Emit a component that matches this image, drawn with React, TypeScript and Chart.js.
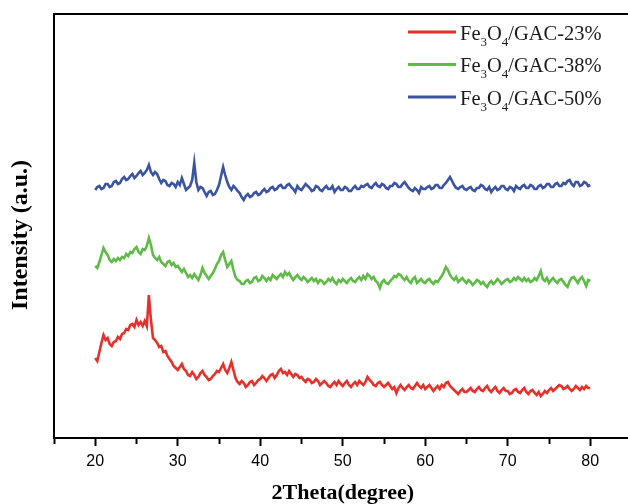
import React, { useEffect, useRef } from 'react';
import { Chart, registerables } from 'chart.js';

Chart.register(...registerables);

// 2θ (degree) sampling positions
const twoTheta = [
  20, 20.25, 20.5, 20.75, 21, 21.25, 21.5, 21.75, 22, 22.25, 22.5, 22.75, 23, 23.25, 23.5, 23.75, 24, 24.25, 24.5, 24.75,
  25, 25.25, 25.5, 25.75, 26, 26.25, 26.5, 26.75, 27, 27.25, 27.5, 27.75, 28, 28.25, 28.5, 28.75, 29, 29.25, 29.5, 29.75,
  30, 30.25, 30.5, 30.75, 31, 31.25, 31.5, 31.75, 32, 32.25, 32.5, 32.75, 33, 33.25, 33.5, 33.75, 34, 34.25, 34.5, 34.75,
  35, 35.25, 35.5, 35.75, 36, 36.25, 36.5, 36.75, 37, 37.25, 37.5, 37.75, 38, 38.25, 38.5, 38.75, 39, 39.25, 39.5, 39.75,
  40, 40.25, 40.5, 40.75, 41, 41.25, 41.5, 41.75, 42, 42.25, 42.5, 42.75, 43, 43.25, 43.5, 43.75, 44, 44.25, 44.5, 44.75,
  45, 45.25, 45.5, 45.75, 46, 46.25, 46.5, 46.75, 47, 47.25, 47.5, 47.75, 48, 48.25, 48.5, 48.75, 49, 49.25, 49.5, 49.75,
  50, 50.25, 50.5, 50.75, 51, 51.25, 51.5, 51.75, 52, 52.25, 52.5, 52.75, 53, 53.25, 53.5, 53.75, 54, 54.25, 54.5, 54.75,
  55, 55.25, 55.5, 55.75, 56, 56.25, 56.5, 56.75, 57, 57.25, 57.5, 57.75, 58, 58.25, 58.5, 58.75, 59, 59.25, 59.5, 59.75,
  60, 60.25, 60.5, 60.75, 61, 61.25, 61.5, 61.75, 62, 62.25, 62.5, 62.75, 63, 63.25, 63.5, 63.75, 64, 64.25, 64.5, 64.75,
  65, 65.25, 65.5, 65.75, 66, 66.25, 66.5, 66.75, 67, 67.25, 67.5, 67.75, 68, 68.25, 68.5, 68.75, 69, 69.25, 69.5, 69.75,
  70, 70.25, 70.5, 70.75, 71, 71.25, 71.5, 71.75, 72, 72.25, 72.5, 72.75, 73, 73.25, 73.5, 73.75, 74, 74.25, 74.5, 74.75,
  75, 75.25, 75.5, 75.75, 76, 76.25, 76.5, 76.75, 77, 77.25, 77.5, 77.75, 78, 78.25, 78.5, 78.75, 79, 79.25, 79.5, 79.75,
  80,
];

// Intensity (a.u., traces offset as plotted)
const gac23 = [
  80, 77, 86, 95, 103, 98, 100, 94, 92, 96, 97, 101, 99, 104, 105, 109, 108, 113, 114, 111,
  118, 113, 116, 112, 117, 112, 143, 118, 100, 98, 95, 91, 92, 86, 87, 82, 79, 76, 72, 70,
  68, 71, 74, 69, 67, 63, 62, 66, 63, 59, 61, 65, 67, 63, 61, 58, 59, 62, 64, 67,
  66, 70, 74, 68, 65, 70, 76, 68, 60, 56, 54, 57, 55, 51, 53, 56, 57, 53, 55, 58,
  59, 62, 60, 57, 60, 63, 64, 60, 63, 67, 69, 65, 66, 63, 67, 64, 61, 64, 63, 60,
  61, 58, 56, 59, 58, 55, 56, 59, 57, 53, 55, 57, 55, 52, 51, 54, 56, 53, 57, 54,
  52, 55, 57, 53, 51, 54, 56, 53, 57, 55, 53, 56, 61, 58, 56, 53, 52, 55, 56, 53,
  51, 53, 55, 52, 49, 51, 45, 50, 53, 50, 48, 51, 53, 50, 49, 52, 55, 52, 50, 53,
  49, 51, 53, 50, 47, 50, 52, 49, 53, 51, 55, 56, 52, 50, 48, 46, 44, 47, 49, 46,
  46, 48, 50, 47, 46, 49, 51, 48, 47, 50, 52, 48, 46, 49, 51, 47, 45, 48, 50, 47,
  47, 44, 45, 48, 49, 46, 45, 48, 50, 46, 44, 47, 48, 45, 43, 46, 42, 44, 47, 45,
  48, 50, 47, 49, 51, 53, 52, 49, 50, 52, 49, 47, 49, 52, 50, 48, 51, 49, 52, 50,
  50,
];

const gac38 = [
  172, 170, 176, 183, 190, 186, 183, 178, 176, 179, 177, 180, 178, 181, 180, 184, 182, 186, 185, 189,
  191, 186, 184, 189, 188, 192, 200, 193, 183, 180, 178, 181, 176, 174, 172, 176, 177, 173, 175, 171,
  172, 169, 166, 169, 165, 161, 163, 160, 164, 161, 158, 163, 170, 165, 162, 159, 162, 165, 169, 174,
  177, 183, 186, 178, 171, 174, 177, 168, 161, 158, 157, 154, 154, 157, 158, 155, 156, 160, 161, 157,
  158, 162, 160, 157, 160, 158, 163, 161, 159, 162, 164, 161, 166, 163, 165, 161, 158, 161, 163, 160,
  158, 161, 159, 156, 158, 160, 157, 159, 155, 158, 157, 154, 156, 159, 157, 160, 156, 154, 158, 156,
  159, 157, 155, 158, 160, 157, 156, 159, 161, 158, 162, 159, 164, 162, 159, 161, 157, 155, 150, 156,
  158, 155, 154, 157, 159, 162, 161, 164, 163, 160, 158, 161, 157, 155, 159, 161, 155, 157, 159, 156,
  155, 158, 159, 156, 154, 157, 156, 159, 162, 166, 171, 168, 163, 160, 158, 161, 156, 158, 160, 157,
  155, 158, 156, 153, 155, 158, 157, 154, 156, 153, 151, 155, 157, 154, 156, 159, 157, 154, 156, 158,
  159, 156, 157, 160, 158, 161, 159, 157, 160, 157, 159, 156, 157, 160, 158, 162, 167, 159, 157, 160,
  155, 158, 160, 157, 155, 158, 159, 156, 153, 151, 157, 160, 161, 158, 155, 159, 161, 157, 152, 158,
  157,
];

const gac50 = [
  248, 251, 252, 249, 250, 254, 254, 251, 252, 256, 257, 254, 255, 259, 261, 258, 259, 262, 264, 260,
  262, 265, 267, 263, 265, 268, 273, 266, 263, 266, 264, 259, 255, 258, 257, 253, 252, 255, 254, 251,
  256, 253, 260, 254, 248, 250, 252, 258, 275, 256, 248, 251, 250, 246, 242, 246, 247, 243, 244, 248,
  253, 262, 271, 263, 256, 251, 248, 252, 250, 247, 245, 241, 238, 242, 244, 241, 242, 245, 246, 243,
  244, 247, 249, 246, 247, 250, 251, 248, 249, 252, 253, 250, 250, 253, 254, 251, 249, 246, 252, 249,
  248, 251, 254, 252, 250, 247, 248, 252, 251, 248, 247, 250, 252, 249, 249, 252, 246, 249, 251, 248,
  248, 251, 250, 247, 247, 250, 252, 249, 249, 252, 251, 253, 254, 251, 250, 253, 255, 252, 251, 254,
  253, 250, 249, 252, 252, 255, 254, 251, 251, 254, 256, 253, 250, 248, 247, 250, 248, 245, 251, 249,
  249, 251, 252, 249, 250, 253, 253, 250, 250, 253, 255, 258, 261, 257, 253, 250, 249, 251, 252, 249,
  248, 250, 251, 248, 247, 250, 250, 253, 252, 249, 248, 251, 246, 249, 251, 248, 249, 252, 252, 249,
  248, 251, 250, 247, 252, 250, 249, 252, 253, 250, 250, 253, 252, 249, 249, 252, 253, 250, 251, 254,
  254, 251, 251, 254, 255, 252, 252, 255, 254, 257, 258, 254, 252, 256, 256, 252, 253, 256, 255, 252,
  253,
];

const seriesLabels = ['Fe₃O₄/GAC-23%', 'Fe₃O₄/GAC-38%', 'Fe₃O₄/GAC-50%'];
const seriesColors = ['#E8302A', '#5DBB46', '#3A53A4'];
const xTickValues = [20, 30, 40, 50, 60, 70, 80];

const SUBS = '₀₁₂₃₄₅₆₇₈₉';

const subLegend = {
  id: 'subLegend',
  afterDraw(chart: any) {
    const ctx = chart.ctx as CanvasRenderingContext2D;
    const rowsY = [32, 64.5, 97];
    ctx.save();
    chart.data.datasets.forEach((ds: any, i: number) => {
      const y = rowsY[i];
      ctx.strokeStyle = ds.borderColor;
      ctx.lineWidth = 3;
      ctx.beginPath();
      ctx.moveTo(408, y);
      ctx.lineTo(456, y);
      ctx.stroke();
      let x = 460;
      const base = y + 7.5;
      ctx.fillStyle = '#1a1a1a';
      ctx.textBaseline = 'alphabetic';
      ctx.textAlign = 'left';
      for (const ch of ds.label as string) {
        const si = SUBS.indexOf(ch);
        if (si >= 0) {
          ctx.font = '13px "Liberation Serif"';
          const t = String(si);
          ctx.fillText(t, x, base + 6);
          x += ctx.measureText(t).width;
        } else {
          ctx.font = '20.5px "Liberation Serif"';
          ctx.fillText(ch, x, base);
          x += ctx.measureText(ch).width;
        }
      }
    });
    ctx.restore();
  },
};

export default function App() {
  const ref = useRef<HTMLCanvasElement>(null);
  useEffect(() => {
    if (!ref.current) return;
    const series = [gac23, gac38, gac50];
    const chart = new Chart(ref.current, {
      type: 'line',
      data: {
        datasets: series.map((s, i) => ({
          label: seriesLabels[i],
          data: twoTheta.map((x, j) => ({ x, y: s[j] })),
          borderColor: seriesColors[i],
          backgroundColor: seriesColors[i],
          borderWidth: 2.6,
          pointRadius: 0,
          tension: 0,
          fill: false,
        })),
      },
      options: {
        animation: false,
        responsive: false,
        devicePixelRatio: 1,
        layout: { padding: { top: 14, right: 8.5, left: 0, bottom: 0 } },
        plugins: { legend: { display: false }, tooltip: { enabled: false } },
        scales: {
          x: {
            type: 'linear',
            position: 'bottom',
            min: 15,
            max: 85,
            afterFit: (s: any) => { s.height = 66; },
            afterBuildTicks: (s: any) => {
              const t: any[] = [];
              for (let v = 15; v <= 85; v += 5) t.push({ value: v });
              s.ticks = t;
            },
            ticks: {
              autoSkip: false,
              maxRotation: 0,
              padding: 6,
              color: '#000',
              font: { family: '"Liberation Sans", Arial', size: 16 },
              callback: (v: any) => (xTickValues.includes(Number(v)) ? String(v) : ''),
            },
            grid: {
              display: true,
              drawOnChartArea: false,
              drawTicks: true,
              tickLength: 8,
              tickWidth: 2,
              tickColor: '#000',
              tickBorderDash: (c: any) => (c.tick && !xTickValues.includes(c.tick.value) ? [5, 40] : []),
            } as any,
            border: { display: true, color: '#000', width: 2 },
            title: {
              display: true,
              text: '2Theta(degree)',
              color: '#000',
              font: { family: '"Liberation Serif", serif', size: 22, weight: 'bold', lineHeight: 1 },
              padding: { top: 0, bottom: 0 },
            },
          },
          xTop: {
            type: 'linear',
            position: 'top',
            min: 15,
            max: 85,
            afterFit: (s: any) => { s.height = 0; },
            ticks: { display: false },
            grid: { display: false, drawTicks: false },
            border: { display: true, color: '#000', width: 2 },
          },
          y: {
            type: 'linear',
            position: 'left',
            min: 0,
            max: 424,
            afterFit: (s: any) => { s.width = 54; },
            ticks: { display: false },
            grid: { display: false, drawTicks: false },
            border: { display: true, color: '#000', width: 2 },
            title: {
              display: true,
              text: 'Intensity (a.u.)   ',
              color: '#000',
              font: { family: '"Liberation Serif", serif', size: 24, weight: 'bold', lineHeight: 1 },
              padding: { top: 9, bottom: 0 },
            },
          },
        },
      } as any,
      plugins: [subLegend],
    });
    return () => chart.destroy();
  }, []);
  return (
    <div style={{ position: 'fixed', left: 0, top: 0, width: 628, height: 504, overflow: 'hidden', background: '#fff' }}>
      <canvas ref={ref} width={640} height={504} style={{ display: 'block', width: 640, height: 504 }} />
    </div>
  );
}
